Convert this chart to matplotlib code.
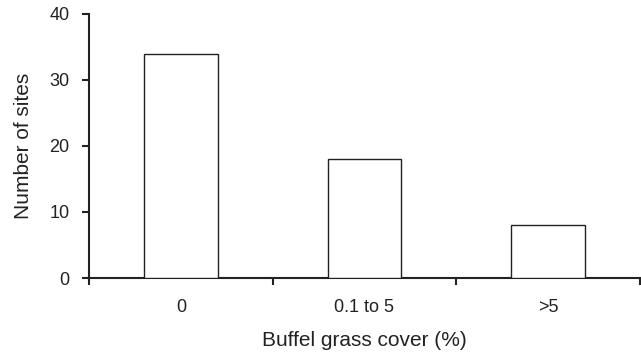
#!/usr/bin/env python3
import numpy as np

import matplotlib
matplotlib.use("Agg")
import matplotlib.pyplot as plt


CATEGORIES = ["0", "0.1 to 5", ">5"]
N_SITES = [34, 18, 8]
Y_TICKS = [0, 10, 20, 30, 40]

plt.rcParams["font.family"] = ["Liberation Sans", "DejaVu Sans"]

fig = plt.figure(figsize=(6.41, 3.56), dpi=100)
ax = fig.add_axes([0.139, 0.219, 0.859, 0.742])

x = np.arange(len(CATEGORIES))
ax.bar(x, N_SITES, width=0.4, color="white", edgecolor="#222222", linewidth=1.0, zorder=3)

ax.set_xlim(-0.5, len(CATEGORIES) - 0.5)
ax.set_ylim(0, 40)
ax.set_yticks(Y_TICKS)

# ticks sit between categories, labels centred under bars
ax.set_xticks(np.arange(len(CATEGORIES) + 1) - 0.5)
ax.set_xticklabels([])
ax.set_xticks(x, minor=True)
ax.set_xticklabels(CATEGORIES, minor=True)
ax.tick_params(axis="x", which="minor", length=0, pad=15, labelsize=13, colors="#222222")
ax.tick_params(axis="x", which="major", length=5, width=1.5, color="#222222")
ax.tick_params(axis="y", length=5, width=1.5, pad=9, color="#222222", labelsize=13, labelcolor="#222222")

for side in ["top", "right"]:
    ax.spines[side].set_visible(False)
for side in ["left", "bottom"]:
    ax.spines[side].set_linewidth(1.5)
    ax.spines[side].set_color("#222222")

ax.set_xlabel("Buffel grass cover (%)", fontsize=15, color="#222222", labelpad=11)
ax.set_ylabel("Number of sites", fontsize=15, color="#222222", labelpad=12)

fig.savefig("out.png", dpi=100)
